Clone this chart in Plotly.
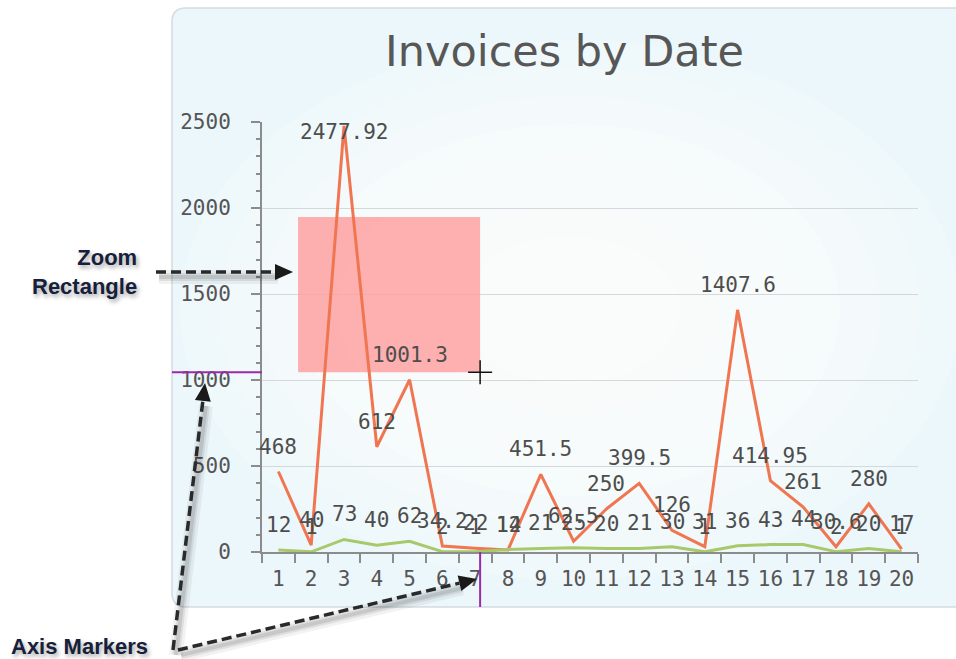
import plotly.graph_objects as go

# ---- data -------------------------------------------------------------
days = list(range(1, 21))
amount = [468, 40, 2477.92, 612, 1001.3, 34.2, 22, 12, 451.5, 62.5,
          250, 399.5, 126, 31, 1407.6, 414.95, 261, 30.6, 280, 17]
count = [12, 1, 73, 40, 62, 2, 1, 14, 21, 25,
         20, 21, 30, 1, 36, 43, 44, 2, 20, 1]
y_ticks = [0, 500, 1000, 1500, 2000, 2500]

# ---- page geometry (pixels) -------------------------------------------
W, H = 956, 659
L, R, T, B = 262, 918, 122, 552
Y_MAX = 2500
UNITS_PER_PX = Y_MAX / (B - T)


def px(x):
    return (x - L) / (R - L)


def py(y):
    return (B - y) / (B - T)


fig = go.Figure()

fig.add_trace(go.Scatter(x=days, y=amount, mode="lines", name="Amount",
                         line=dict(color="#f07651", width=3),
                         hoverinfo="x+y"))
fig.add_trace(go.Scatter(x=days, y=count, mode="lines", name="Invoices",
                         line=dict(color="#a8c96a", width=3),
                         hoverinfo="x+y"))

shapes = []

# rounded panel behind the chart
r = 14
x0, y0, x1, y1 = 172, 8, 990, 607
panel = (f"M {px(x0)},{py(y0 + r)} Q {px(x0)},{py(y0)} {px(x0 + r)},{py(y0)} "
         f"L {px(x1)},{py(y0)} L {px(x1)},{py(y1)} L {px(x0 + r)},{py(y1)} "
         f"Q {px(x0)},{py(y1)} {px(x0)},{py(y1 - r)} Z")
shapes.append(dict(type="path", path=panel, xref="paper", yref="paper",
                   fillcolor="#ecf7fb", line=dict(color="#d3dce0", width=1.5),
                   layer="below"))

# soft white glow in the middle of the panel
cx, cy = 570, 310
for i in range(8):
    rx = 390 - i * 40
    ry = 270 - i * 28
    shapes.append(dict(type="circle", xref="paper", yref="paper",
                       x0=px(cx - rx), x1=px(cx + rx),
                       y0=py(cy + ry), y1=py(cy - ry),
                       fillcolor="white", opacity=0.2, line=dict(width=0),
                       layer="below"))

# zoom rectangle being dragged
cursor_x, cursor_y = 7.15, 1045
shapes.append(dict(type="rect", xref="x", yref="y",
                   x0=1.6, x1=cursor_x, y0=cursor_y, y1=1948,
                   fillcolor="#ff9c9c", opacity=0.8, line=dict(width=0),
                   layer="between"))

# axis markers at the cursor
purple = "#9a2aad"
shapes.append(dict(type="line", xref="paper", yref="y",
                   x0=px(172), x1=0, y0=cursor_y, y1=cursor_y,
                   line=dict(color=purple, width=2)))
shapes.append(dict(type="line", xref="x", yref="paper",
                   x0=cursor_x, x1=cursor_x, y0=0, y1=py(607),
                   line=dict(color=purple, width=2)))

# crosshair cursor
cpx = L + (cursor_x - 0.5) * (R - L) / 20
cpy = B - cursor_y / UNITS_PER_PX
shapes.append(dict(type="line", xref="paper", yref="paper",
                   x0=px(cpx - 12), x1=px(cpx + 12), y0=py(cpy), y1=py(cpy),
                   line=dict(color="#111", width=1.5), layer="above"))
shapes.append(dict(type="line", xref="paper", yref="paper",
                   x0=px(cpx), x1=px(cpx), y0=py(cpy - 12), y1=py(cpy + 12),
                   line=dict(color="#111", width=1.5), layer="above"))


def dashed_arrow(tail, tip, head=18, half=8):
    (tx, ty), (hx, hy) = tail, tip
    dx, dy = hx - tx, hy - ty
    n = (dx * dx + dy * dy) ** 0.5
    ux, uy = dx / n, dy / n
    bx, by = hx - head * ux, hy - head * uy
    out = []
    # blurred shadow under the arrow
    for w, a in ((14, 0.05), (8, 0.08), (4, 0.1)):
        out.append(dict(type="line", xref="paper", yref="paper",
                        x0=px(tx + 3), y0=py(ty + 5), x1=px(bx + 3), y1=py(by + 5),
                        line=dict(color=f"rgba(0,0,0,{a})", width=w)))
    out.append(dict(type="line", xref="paper", yref="paper",
                    x0=px(tx), y0=py(ty), x1=px(bx), y1=py(by),
                    line=dict(color="#2a2a2a", width=3.5, dash="10px,5px")))
    p1 = (bx - half * uy, by + half * ux)
    p2 = (bx + half * uy, by - half * ux)
    out.append(dict(type="path", xref="paper", yref="paper",
                    path=(f"M {px(hx)},{py(hy)} L {px(p1[0])},{py(p1[1])} "
                          f"L {px(p2[0])},{py(p2[1])} Z"),
                    fillcolor="#1a1a1a", line=dict(width=0)))
    return out


shapes += dashed_arrow((156, 272), (293, 272))
shapes += dashed_arrow((173, 650), (205, 383))
shapes += dashed_arrow((178, 650), (477, 579))

# ---- annotations ------------------------------------------------------
label_font = dict(family="DejaVu Sans Mono", size=21, color="#4d4d4d")
annotations = []
for series in (amount, count):
    for d, v in zip(days, series):
        y_lab = min(v + 25 * UNITS_PER_PX, Y_MAX - 10 * UNITS_PER_PX)
        annotations.append(dict(x=d, y=y_lab, xref="x", yref="y",
                                xanchor="center", yanchor="middle",
                                text=f"{v:g}", showarrow=False,
                                font=label_font))

annotations.append(dict(x=px(564), y=py(51), xref="paper", yref="paper",
                        xanchor="center", yanchor="middle",
                        text="Invoices by Date", showarrow=False,
                        font=dict(family="DejaVu Sans", size=43, color="#575757")))

callout_font = dict(family="Liberation Sans", size=22, color="#16203a",
                    shadow="2px 3px 4px rgba(0,0,0,0.35)")
annotations.append(dict(x=px(139), y=py(272), xref="paper", yref="paper",
                        xanchor="right", yanchor="middle", align="right",
                        text="<b>Zoom</b><br><b>Rectangle</b>",
                        showarrow=False, font=callout_font))
annotations.append(dict(x=px(9), y=py(646), xref="paper", yref="paper",
                        xanchor="left", yanchor="middle",
                        text="<b>Axis Markers</b>",
                        showarrow=False, font=callout_font))

tick_font = dict(family="DejaVu Sans Mono", size=21, color="#555")
axis_grey = "#8c8c8c"

fig.update_layout(
    width=W, height=H,
    margin=dict(l=L, r=W - R, t=T, b=H - B, autoexpand=False),
    paper_bgcolor="white", plot_bgcolor="rgba(0,0,0,0)",
    showlegend=False,
    shapes=shapes, annotations=annotations,
    xaxis=dict(range=[0.5, 20.5], tickmode="array", tickvals=days,
               ticktext=[str(d) for d in days], ticks="",
               showgrid=False, zeroline=False,
               showline=True, linecolor=axis_grey, linewidth=2,
               tickfont=tick_font, ticklabelstandoff=7,
               minor=dict(tick0=0.5, dtick=1, ticks="outside", ticklen=9,
                          tickcolor=axis_grey, tickwidth=2, showgrid=False)),
    yaxis=dict(range=[0, Y_MAX], tickmode="array", tickvals=y_ticks,
               ticks="outside", ticklen=9, tickcolor=axis_grey, tickwidth=1.5,
               showline=True, linecolor=axis_grey, linewidth=2,
               showgrid=True, gridcolor="#d4d8da", gridwidth=1,
               zeroline=False, tickfont=tick_font, ticklabelstandoff=16,
               minor=dict(dtick=100, ticks="outside", ticklen=4,
                          tickcolor=axis_grey, tickwidth=1.5, showgrid=False)),
)

fig.write_html("out.html")
